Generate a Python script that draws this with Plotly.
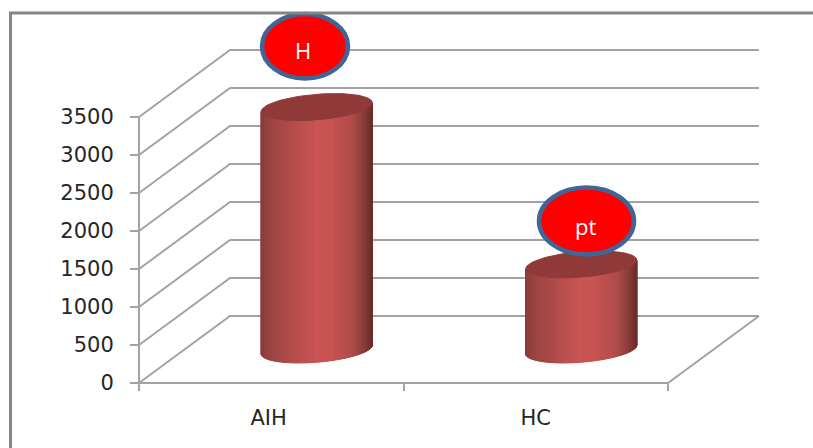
import math
import plotly.graph_objects as go

# ---- data ----
categories = ["AIH", "HC"]
values = [3190, 1120]
y_ticks = [0, 500, 1000, 1500, 2000, 2500, 3000, 3500]
callouts = ["H", "pt"]

# ---- scale set-up ----
W, H = 813, 448
X0_PX, X2_PX, Y0_PX = 139, 668, 383
PX_PER_X = (X2_PX - X0_PX) / 2
PX_PER_Y = 38 / 500
DEPTH_X = 91 / PX_PER_X
DEPTH_Y = 67 / PX_PER_Y
GRID = "#a3a3a3"
x_range = [-X0_PX / PX_PER_X, (W - X0_PX) / PX_PER_X]
y_range = [-(H - Y0_PX) / PX_PER_Y, Y0_PX / PX_PER_Y]


def lerp_hex(c1, c2, f):
    a = [int(c1[i:i + 2], 16) for i in (1, 3, 5)]
    b = [int(c2[i:i + 2], 16) for i in (1, 3, 5)]
    return "#" + "".join(f"{round(p + (q - p) * f):02x}" for p, q in zip(a, b))


STOPS = [(0, "#8a3c3a"), (0.12, "#a04644"), (0.5, "#c95452"), (0.6, "#c95452"),
         (0.82, "#b04c4a"), (0.94, "#843a38"), (1, "#6c2e2c")]


def shade(u):
    for (a, c1), (b, c2) in zip(STOPS, STOPS[1:]):
        if u <= b:
            return lerp_hex(c1, c2, (u - a) / (b - a))
    return STOPS[-1][1]


fig = go.Figure()


def line(xs, ys, color=GRID, width=2):
    fig.add_trace(go.Scatter(x=xs, y=ys, mode="lines", hoverinfo="skip", showlegend=False,
                             line=dict(color=color, width=width)))


# walls and floor
for v in y_ticks:
    line([0, DEPTH_X, 2 + DEPTH_X], [v, v + DEPTH_Y, v + DEPTH_Y])
line([0, 0], [0, y_ticks[-1]])
line([0, 2, 2 + DEPTH_X], [0, 0, DEPTH_Y])

# cylinders
A = 52.5 / PX_PER_X
BX = 18.0 / PX_PER_X
BY = 13.5 / PX_PER_Y
T0 = math.atan2(BX, A)
R = math.hypot(A, BX)
N = 110
for i, val in enumerate(values):
    cx = i + 0.5 + 0.5 * DEPTH_X
    cy = 0.5 * DEPTH_Y

    def px(t):
        return cx + A * math.cos(t) + BX * math.sin(t)

    def py(t):
        return BY * math.sin(t)

    ts = [T0 + math.pi + math.pi * k / N for k in range(N + 1)]
    for a, b in zip(ts, ts[1:]):
        col = shade(((px(a) + px(b)) / 2 - (cx - R)) / (2 * R))
        fig.add_trace(go.Scatter(
            x=[px(a), px(b), px(b), px(a), px(a)],
            y=[cy + py(a), cy + py(b), cy + val + py(b), cy + val + py(a), cy + py(a)],
            mode="lines", fill="toself", fillcolor=col,
            line=dict(color=col, width=1), hoverinfo="skip", showlegend=False))
    # top face
    tt = [2 * math.pi * k / 100 for k in range(101)]
    fig.add_trace(go.Scatter(
        x=[px(t) for t in tt], y=[cy + val + py(t) for t in tt], mode="lines", fill="toself",
        fillcolor="#8f3a38", line=dict(color="#8f3a38", width=1), hoverinfo="skip", showlegend=False))

shapes = []
annotations = []
# callout ovals (x0, y0, x1, y1 in page pixels) and their text centres
ovals = [(262, 14, 348, 78.5, 303, 50), (539, 187.5, 634, 254.5, 585, 226)]
for text, (x0, y0, x1, y1, tx, ty) in zip(callouts, ovals):
    shapes.append(dict(type="circle", xref="paper", yref="paper", x0=x0 / W, x1=x1 / W,
                       y0=1 - y0 / H, y1=1 - y1 / H, fillcolor="#ff0000",
                       line=dict(color="#3f6696", width=4.5), layer="above"))
    annotations.append(dict(xref="paper", yref="paper", x=tx / W, y=1 - ty / H, text=text,
                            xanchor="center", yanchor="middle", showarrow=False,
                            font=dict(family="Open Sans", size=22, color="white")))
# outer frame
shapes.append(dict(type="path", xref="paper", yref="paper", layer="above",
                   path=f"M {10.5 / W} 0 L {10.5 / W} {1 - 13 / H} L 1 {1 - 13 / H}",
                   line=dict(color="#858585", width=3)))

fig.update_layout(
    width=W, height=H, margin=dict(l=0, r=0, t=0, b=0), showlegend=False,
    paper_bgcolor="white", plot_bgcolor="white", hovermode=False,
    shapes=shapes, annotations=annotations,
    font=dict(family="DejaVu Sans", color="#262626"),
    xaxis=dict(range=x_range, domain=[0, 1], anchor="free", position=(H - Y0_PX) / H,
               tickmode="array", tickvals=[0.49, 1.5], ticktext=categories, ticks="",
               tickfont=dict(size=21), showgrid=False, zeroline=False, showline=False,
               ticklabelstandoff=20,
               minor=dict(tickmode="array", tickvals=[0, 1, 2], ticks="outside", ticklen=7,
                          tickcolor=GRID, tickwidth=2, showgrid=False)),
    yaxis=dict(range=y_range, domain=[0, 1], anchor="free", position=X0_PX / W,
               tickmode="array", tickvals=y_ticks, ticktext=[str(v) for v in y_ticks],
               ticks="outside", ticklen=9, tickcolor=GRID, tickwidth=2,
               tickfont=dict(size=21), showgrid=False, zeroline=False, showline=False,
               ticklabelstandoff=12),
)

fig.write_html("out.html", config={"displayModeBar": False},
               post_script="document.body.style.margin='0';document.documentElement.style.overflow='hidden';")
